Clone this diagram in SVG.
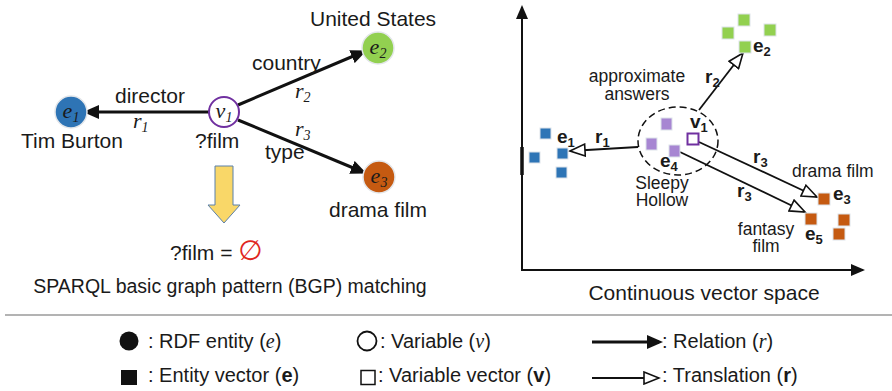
<svg xmlns="http://www.w3.org/2000/svg" width="892" height="391" viewBox="0 0 892 391">
  <defs>
    <marker id="solid" markerUnits="userSpaceOnUse" markerWidth="16" markerHeight="14" refX="12" refY="7" orient="auto">
      <path d="M0,0 L16,7 L0,14 z" fill="#111"/>
    </marker>
    <marker id="hollow" markerUnits="userSpaceOnUse" markerWidth="18" markerHeight="14" refX="16" refY="7" orient="auto">
      <path d="M1,1 L16,7 L1,13 z" fill="#fff" stroke="#111" stroke-width="1.6" stroke-linejoin="miter"/>
    </marker>
    <marker id="axis" markerUnits="userSpaceOnUse" markerWidth="14" markerHeight="12" refX="12" refY="6" orient="auto">
      <path d="M0,0 L14,6 L0,12 z" fill="#111"/>
    </marker>
  </defs>
  <style>
    text { font-family: "Liberation Sans", Arial, sans-serif; fill: #1a1a1a; }
    .lbl { font-size: 21px; }
    .sm { font-size: 17.5px; }
    .it { font-family: "Liberation Serif", "Times New Roman", serif; font-style: italic; }
    .bd { font-weight: bold; font-size: 19px; }
    .sub { font-size: 13px; }
    .rel { stroke: #111; stroke-width: 3; fill: none; marker-end: url(#solid); }
    .tr { stroke: #111; stroke-width: 1.8; fill: none; marker-end: url(#hollow); }
    .ent { stroke: #e3e6ea; stroke-width: 1.5; }
    .sq { stroke: #dde3ea; stroke-width: 1; }
  </style>

  <!-- ===== Left: SPARQL basic graph pattern ===== -->
  <g id="connectors-bgp">
    <line class="rel" x1="209" y1="112" x2="87" y2="112"/>
    <line class="rel" x1="238" y1="105" x2="363" y2="52"/>
    <line class="rel" x1="238" y1="120" x2="363" y2="172"/>
  </g>
  <g id="edge-labels-bgp">
    <text class="lbl" x="115" y="103">director</text>
    <text class="it" font-size="22" x="133" y="128">r<tspan font-size="14" dy="4">1</tspan></text>
    <text class="lbl" x="252" y="70">country</text>
    <text class="it" font-size="22" x="295" y="98">r<tspan font-size="14" dy="4">2</tspan></text>
    <text class="it" font-size="22" x="295" y="136">r<tspan font-size="14" dy="4">3</tspan></text>
    <text class="lbl" x="265" y="159">type</text>
  </g>

  <g id="node-e1">
    <circle class="ent" cx="71" cy="112" r="16" fill="#2E74B5"/>
    <text class="it" font-size="22" x="71" y="118" text-anchor="middle">e<tspan font-size="14" dy="4">1</tspan></text>
    <text class="lbl" x="21" y="148">Tim Burton</text>
  </g>
  <g id="node-v1">
    <circle cx="224" cy="112" r="15" fill="#fff" stroke="#7030A0" stroke-width="2"/>
    <text class="it" font-size="22" x="224" y="118" text-anchor="middle">v<tspan font-size="14" dy="4">1</tspan></text>
    <text class="lbl" x="195" y="148">?film</text>
  </g>
  <g id="node-e2">
    <circle class="ent" cx="378" cy="48" r="16" fill="#92D050"/>
    <text class="it" font-size="22" x="378" y="54" text-anchor="middle">e<tspan font-size="14" dy="4">2</tspan></text>
    <text class="lbl" x="310" y="26">United States</text>
  </g>
  <g id="node-e3">
    <circle class="ent" cx="379" cy="177" r="16" fill="#C55A11"/>
    <text class="it" font-size="22" x="379" y="183" text-anchor="middle">e<tspan font-size="14" dy="4">3</tspan></text>
    <text class="lbl" x="329" y="217">drama film</text>
  </g>

  <g id="result">
    <polygon points="215,166 233,166 233,205 240,205 224,223 208,205 215,205" fill="#F9D768" stroke="#5B80AA" stroke-width="1"/>
    <text class="lbl" x="170" y="260">?film = <tspan fill="#E0261D" font-family="DejaVu Sans, sans-serif" font-size="28">∅</tspan></text>
    <text x="230" y="293" font-size="19.5" text-anchor="middle">SPARQL basic graph pattern (BGP) matching</text>
  </g>

  <!-- ===== Right: continuous vector space ===== -->
  <g id="axes">
    <line x1="522" y1="271" x2="522" y2="7" stroke="#111" stroke-width="2" marker-end="url(#axis)"/>
    <line x1="521" y1="270" x2="863" y2="270" stroke="#111" stroke-width="2" marker-end="url(#axis)"/>
    <line x1="522" y1="147" x2="522" y2="175" stroke="#111" stroke-width="3.5"/>
  </g>

  <g id="connectors-space">
    <line class="tr" x1="699" y1="110" x2="743" y2="53"/>
    <line class="tr" x1="638" y1="147" x2="570" y2="151"/>
    <line class="tr" x1="699" y1="142" x2="817" y2="197"/>
    <line class="tr" x1="680" y1="152" x2="805" y2="212"/>
  </g>
  <g id="edge-labels-space">
    <text class="bd" x="705" y="83">r<tspan class="sub" dy="4">2</tspan></text>
    <text class="bd" x="595" y="143">r<tspan class="sub" dy="4">1</tspan></text>
    <text class="bd" x="753" y="163">r<tspan class="sub" dy="4">3</tspan></text>
    <text class="bd" x="737" y="197">r<tspan class="sub" dy="4">3</tspan></text>
  </g>

  <g id="cluster-approx">
    <ellipse cx="678" cy="141" rx="40" ry="34" fill="none" stroke="#111" stroke-width="1.5" stroke-dasharray="7,4"/>
    <text class="sm" text-anchor="middle"><tspan x="637" y="82">approximate</tspan><tspan x="637" y="100">answers</tspan></text>
  </g>

  <g id="vec-v1">
    <rect x="687.5" y="133.5" width="11" height="11" fill="#fff" stroke="#7030A0" stroke-width="2"/>
    <text class="bd" x="690" y="128">v<tspan class="sub" dy="4">1</tspan></text>
  </g>
  <g id="vec-e4">
    <rect class="sq" x="661" y="118" width="11" height="12" fill="#A786D2"/>
    <rect class="sq" x="646" y="138" width="11" height="12" fill="#A786D2"/>
    <rect class="sq" x="669" y="145" width="11" height="12" fill="#A786D2"/>
    <text class="bd" x="660" y="167">e<tspan class="sub" dy="4">4</tspan></text>
    <text class="sm" text-anchor="middle"><tspan x="662" y="189">Sleepy</tspan><tspan x="662" y="206">Hollow</tspan></text>
  </g>
  <g id="vec-e1">
    <rect class="sq" x="540" y="128" width="11" height="11" fill="#2E75B6"/>
    <rect class="sq" x="529" y="152" width="11" height="11" fill="#2E75B6"/>
    <rect class="sq" x="557" y="148" width="11" height="11" fill="#2E75B6"/>
    <rect class="sq" x="556" y="167" width="11" height="11" fill="#2E75B6"/>
    <text class="bd" x="557" y="143">e<tspan class="sub" dy="4">1</tspan></text>
  </g>
  <g id="vec-e2">
    <rect class="sq" x="738" y="14" width="12" height="12" fill="#92D050"/>
    <rect class="sq" x="722" y="27" width="12" height="12" fill="#92D050"/>
    <rect class="sq" x="764" y="24" width="12" height="12" fill="#92D050"/>
    <rect class="sq" x="739" y="41" width="12" height="12" fill="#92D050"/>
    <text class="bd" x="753" y="52">e<tspan class="sub" dy="4">2</tspan></text>
  </g>
  <g id="vec-e3">
    <rect class="sq" x="818" y="193" width="12" height="12" fill="#C55A11"/>
    <rect class="sq" x="838" y="214" width="12" height="12" fill="#C55A11"/>
    <rect class="sq" x="833" y="228" width="12" height="12" fill="#C55A11"/>
    <text class="bd" x="833" y="200">e<tspan class="sub" dy="4">3</tspan></text>
    <text class="sm" x="792" y="177">drama film</text>
  </g>
  <g id="vec-e5">
    <rect class="sq" x="805" y="213" width="12" height="12" fill="#C55A11"/>
    <text class="bd" x="805" y="240">e<tspan class="sub" dy="4">5</tspan></text>
    <text class="sm" text-anchor="middle"><tspan x="766" y="235">fantasy</tspan><tspan x="766" y="252">film</tspan></text>
  </g>
  <text x="704" y="300" font-size="21" text-anchor="middle">Continuous vector space</text>

  <!-- ===== Legend ===== -->
  <line x1="5" y1="315" x2="892" y2="315" stroke="#9a9a9a" stroke-width="1.5"/>
  <g id="legend">
    <circle cx="129" cy="341" r="9.5" fill="#111"/>
    <text font-size="20" x="148" y="348">: RDF entity (<tspan class="it">e</tspan>)</text>
    <circle cx="367" cy="341" r="9.5" fill="#fff" stroke="#111" stroke-width="1.8"/>
    <text font-size="20" x="380" y="348">: Variable (<tspan class="it">v</tspan>)</text>
    <line class="rel" x1="592" y1="342" x2="659" y2="342"/>
    <text font-size="20" x="662" y="348">: Relation (<tspan class="it">r</tspan>)</text>

    <rect x="121" y="370" width="16" height="15" fill="#111"/>
    <text font-size="20" x="148" y="382">: Entity vector (<tspan font-weight="bold">e</tspan>)</text>
    <rect x="361" y="370.5" width="14" height="14" fill="#fff" stroke="#111" stroke-width="1.5"/>
    <text font-size="20" x="378" y="382">: Variable vector (<tspan font-weight="bold">v</tspan>)</text>
    <line class="tr" x1="592" y1="378" x2="659" y2="378"/>
    <text font-size="20" x="662" y="382">: Translation (<tspan font-weight="bold">r</tspan>)</text>
  </g>
</svg>
